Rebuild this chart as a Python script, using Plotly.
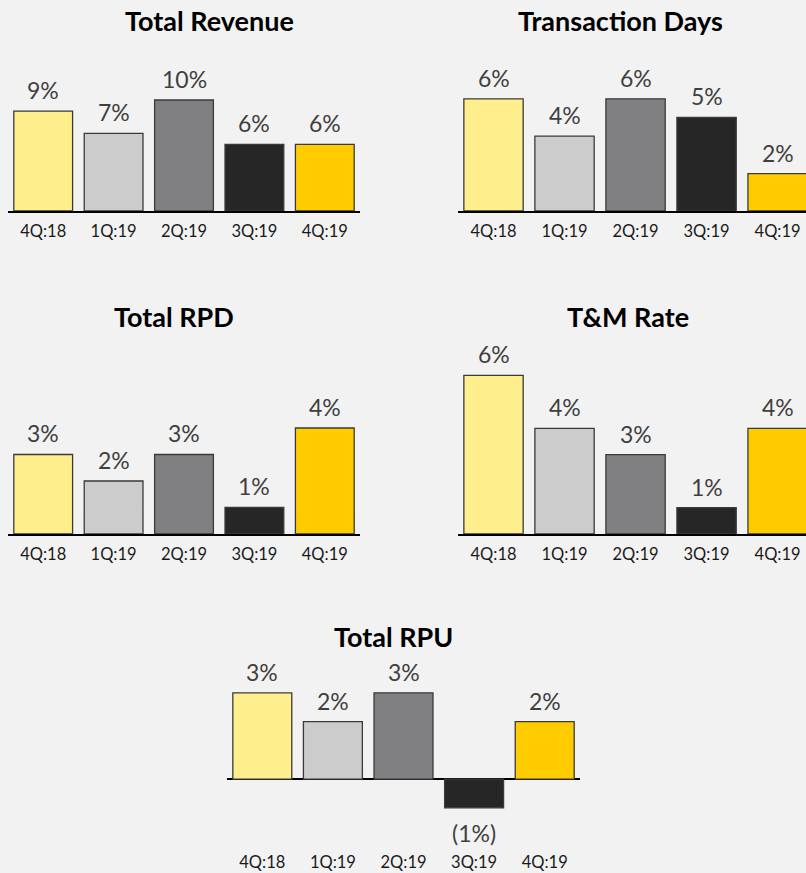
import plotly.graph_objects as go

W, H = 806, 873

quarters = ["4Q:18", "1Q:19", "2Q:19", "3Q:19", "4Q:19"]
bar_colors = ["#FFEF8C", "#CCCCCC", "#808083", "#262626", "#FFCC00"]

titles = ["Total Revenue", "Transaction Days", "Total RPD", "T&M Rate", "Total RPU"]
total_revenue = [9.0, 7.0, 10.0, 6.0, 6.0]
transaction_days = [6.0, 4.0, 6.0, 5.0, 2.0]
total_rpd = [3.0, 2.0, 3.0, 1.0, 4.0]
tm_rate = [6.0, 4.0, 3.0, 1.0, 4.0]
total_rpu = [3.0, 2.0, 3.0, -1.0, 2.0]
series = [total_revenue, transaction_days, total_rpd, tm_rate, total_rpu]

# panel layout in pixels
panels = [
    dict(x=(8, 360), y=(55.6, 211), yr=[0, 14], xr=[-0.5, 4.5], t=(209, 20)),
    dict(x=(458, 806), y=(61.4, 211), yr=[0, 8], xr=[-0.5, 4.40], t=(620, 20)),
    dict(x=(8, 360), y=(401.5, 534), yr=[0, 5], xr=[-0.5, 4.5], t=(174, 316)),
    dict(x=(458, 806), y=(349, 534), yr=[0, 7], xr=[-0.5, 4.40], t=(628, 316)),
    dict(x=(227, 580), y=(678.5, 846), yr=[-2.33, 3.5], xr=[-0.5, 4.5], t=(393, 636)),
]

FONT = "Lato, 'Open Sans', sans-serif"


def px_x(p):
    return p / W


def px_y(p):
    return 1 - p / H


def fmt(v):
    r = round(v)
    return f"({abs(r)}%)" if r < 0 else f"{r}%"


fig = go.Figure()
annotations = []
for i, (p, vals, title) in enumerate(zip(panels, series, titles)):
    n = "" if i == 0 else str(i + 1)
    xa, ya = "x" + n, "y" + n
    fig.add_trace(go.Bar(
        x=quarters, y=vals, xaxis=xa, yaxis=ya,
        marker=dict(color=bar_colors, line=dict(color="#3A3A3A", width=1.3)),
        width=0.835, showlegend=False, hoverinfo="skip",
    ))
    last = (i == 4)
    fig.layout["xaxis" + n] = dict(
        domain=[px_x(p["x"][0]), px_x(p["x"][1])], anchor=ya,
        range=p["xr"], type="category", showgrid=False, zeroline=False,
        showline=not last, linecolor="#000000", linewidth=2.2,
        ticks="", ticklabelstandoff=4,
        tickfont=dict(family=FONT, size=16.5, color="#1A1A1A"),
        fixedrange=True,
    )
    fig.layout["yaxis" + n] = dict(
        domain=[px_y(p["y"][1]), px_y(p["y"][0])], anchor=xa,
        range=p["yr"], showgrid=False, showticklabels=False, ticks="",
        zeroline=last, zerolinecolor="#000000", zerolinewidth=2.2,
        showline=False, fixedrange=True,
    )
    annotations.append(dict(
        text=f"<b>{title}</b>", xref="paper", yref="paper",
        x=px_x(p["t"][0]), y=px_y(p["t"][1]), xanchor="center", yanchor="middle",
        showarrow=False, font=dict(family=FONT, size=27, color="#000000"),
    ))
    for q, v in zip(quarters, vals):
        neg = v < 0
        annotations.append(dict(
            text=fmt(v), xref=xa, yref=ya, x=q, y=v,
            xanchor="center", yanchor="top" if neg else "bottom",
            yshift=-9 if neg else 5, showarrow=False,
            font=dict(family=FONT, size=23, color="#3F3F3F"),
        ))

fig.update_layout(
    width=W, height=H, margin=dict(l=0, r=0, t=0, b=0),
    paper_bgcolor="#F2F2F2", plot_bgcolor="#F2F2F2",
    annotations=annotations, bargap=0.165,
)

fig.write_html("out.html", config={"displayModeBar": False})
